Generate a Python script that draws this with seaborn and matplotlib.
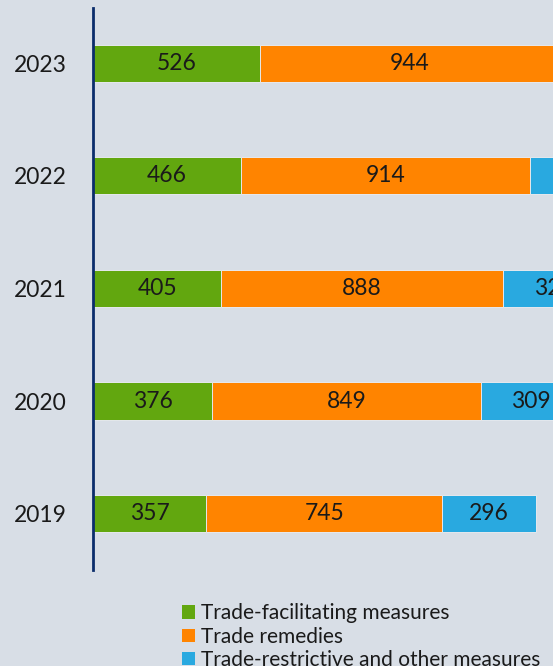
import matplotlib
matplotlib.use("Agg")
import matplotlib.pyplot as plt
import seaborn as sns
import pandas as pd
import numpy as np
from matplotlib.patches import Patch

years = ["2023", "2022", "2021", "2020", "2019"]
facilitating = [526, 466, 405, 376, 357]
remedies = [944, 914, 888, 849, 745]
restrictive = [380, 350, 322, 309, 296]
series_names = ["Trade-facilitating measures", "Trade remedies",
                "Trade-restrictive and other measures"]
colors = ["#62a70f", "#ff8400", "#29a9e0"]

bg = "#d8dee6"
sns.set_theme(style="white")
plt.rcParams["font.family"] = ["Lato", "DejaVu Sans"]

df = pd.DataFrame({"year": years, "fac": facilitating, "rem": remedies, "res": restrictive})
df["c1"] = df["fac"]
df["c2"] = df["fac"] + df["rem"]
df["c3"] = df["c2"] + df["res"]

fig = plt.figure(figsize=(5.53, 6.66), dpi=100, facecolor=bg)
ax = fig.add_axes([93/553, 1 - 570/666, 1 - 93/553, (570 - 8)/666])
ax.set_facecolor(bg)

for col, c in zip(["c3", "c2", "c1"], colors[::-1]):
    sns.barplot(data=df, x=col, y="year", order=years, color=c, orient="h",
                width=0.33, edgecolor="#e6e9ee", linewidth=0.7, ax=ax,
                saturation=1)

xmax = 1451
ax.set_xlim(0, xmax)
ax.set_ylim(4.5, -0.49)
ax.set_xlabel("")
ax.set_ylabel("")
ax.set_xticks([])
for s in ["top", "right", "bottom"]:
    ax.spines[s].set_visible(False)
ax.spines["left"].set_color("#0b2d6b")
ax.spines["left"].set_linewidth(2)
ax.tick_params(axis="y", length=0, pad=19, labelsize=16.5, labelcolor="#1a1a1a")

for i in range(len(years)):
    starts = [0, df["c1"][i], df["c2"][i]]
    vals = [df["fac"][i], df["rem"][i], df["res"][i]]
    for s0, v in zip(starts, vals):
        cx = s0 + v / 2
        if cx - 40 > xmax:
            continue
        ax.text(cx, i, f"{v}", ha="center", va="center",
                fontsize=16.5, color="#1a1a1a", clip_on=False)

handles = [Patch(facecolor=c, edgecolor="none") for c in colors]
fig.legend(handles, series_names, loc="upper left",
           bbox_to_anchor=(172/553, 1 - 593/666), frameon=False,
           prop={"size": 15}, handlelength=0.6, handleheight=0.6,
           handletextpad=0.3, labelspacing=0.16, borderpad=0,
           labelcolor="#1a1a1a")

fig.savefig("out.png", dpi=100, facecolor=bg)
